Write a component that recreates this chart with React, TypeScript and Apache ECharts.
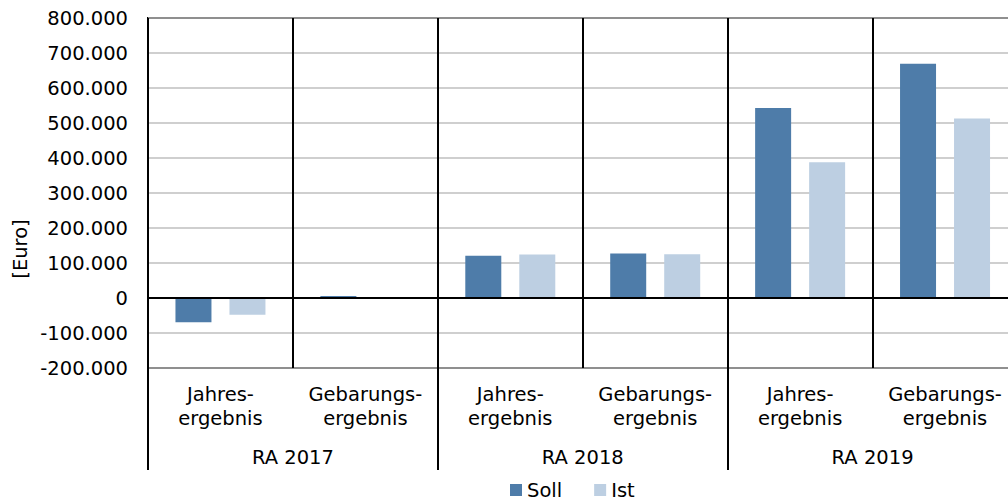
import React, { useEffect, useRef } from "react";
import * as echarts from "echarts";

const categories = [
  "Jahres-\nergebnis",
  "Gebarungs-\nergebnis",
  "Jahres-\nergebnis",
  "Gebarungs-\nergebnis",
  "Jahres-\nergebnis",
  "Gebarungs-\nergebnis",
];
const groups = ["RA 2017", "RA 2018", "RA 2019"];
const sollValues = [-69000, 6000, 121000, 127000, 543000, 669000];
const istValues = [-48000, 0, 124000, 125000, 388000, 513000];
const seriesNames = ["Soll", "Ist"];
const yAxisName = "[Euro]";

const FONT = "DejaVu Sans";
const FS = 19.5;

function fmt(v: number): string {
  const neg = v < 0;
  const s = Math.abs(v).toString().replace(/\B(?=(\d{3})+(?!\d))/g, ".");
  return (neg ? "-" : "") + s;
}

export default function App() {
  const ref = useRef<HTMLDivElement>(null);
  useEffect(() => {
    if (!ref.current) return;
    const chart = echarts.init(ref.current, null, { renderer: "svg" });
    chart.setOption({
      animation: false,
      backgroundColor: "#ffffff",
      textStyle: { fontFamily: FONT, color: "#000" },
      grid: {
        left: 148,
        top: 18,
        width: 869.5,
        height: 350,
        show: true,
        borderColor: "#000",
        borderWidth: 2,
        containLabel: false,
      },
      legend: {
        data: seriesNames,
        left: 505,
        top: 475,
        itemWidth: 12,
        itemHeight: 12,
        itemGap: 32,
        icon: "rect",
        textStyle: { fontFamily: FONT, fontSize: FS, color: "#000" },
      },
      xAxis: [
        {
          type: "category",
          data: categories,
          position: "bottom",
          axisLine: { show: true, lineStyle: { color: "#000", width: 2 } },
          axisTick: { show: true, length: 64, lineStyle: { color: "#000", width: 2 } },
          splitLine: { show: true, lineStyle: { color: "#000", width: 2 } },
          axisLabel: {
            interval: 0,
            margin: 15,
            fontFamily: FONT,
            fontSize: FS,
            lineHeight: 23.5,
            color: "#000",
          },
        },
        {
          type: "category",
          data: groups,
          position: "bottom",
          axisLine: { show: false },
          axisTick: { show: true, length: 102, lineStyle: { color: "#000", width: 2 } },
          splitLine: { show: false },
          axisLabel: {
            interval: 0,
            margin: 78,
            fontFamily: FONT,
            fontSize: FS,
            lineHeight: 23.5,
            color: "#000",
          },
        },
      ],
      yAxis: {
        type: "value",
        min: -200000,
        max: 800000,
        interval: 100000,
        axisLine: { show: false },
        axisTick: { show: false },
        splitLine: { show: true, lineStyle: { color: "#bfbfbf", width: 1.5 } },
        axisLabel: {
          margin: 20,
          fontFamily: FONT,
          fontSize: FS,
          color: "#000",
          formatter: (v: number) => fmt(v),
        },
      },
      graphic: [
        {
          type: "text",
          x: 20,
          y: 249,
          rotation: Math.PI / 2,
          style: {
            text: yAxisName,
            fontFamily: FONT,
            fontSize: FS,
            fill: "#000",
            textAlign: "center",
            textVerticalAlign: "middle",
          },
        },
      ],
      series: [
        {
          name: seriesNames[0],
          type: "bar",
          data: sollValues,
          barWidth: 36,
          barGap: "50%",
          itemStyle: { color: "#4e7ca9" },
          markLine: {
            silent: true,
            symbol: "none",
            label: { show: false },
            lineStyle: { color: "#000", width: 2, type: "solid" },
            data: [{ yAxis: 0 }],
          },
        },
        {
          name: seriesNames[1],
          type: "bar",
          data: istValues,
          barWidth: 36,
          barGap: "50%",
          itemStyle: { color: "#bdcfe2" },
        },
      ],
    });
    return () => chart.dispose();
  }, []);
  return (
    <div
      ref={ref}
      style={{ position: "fixed", left: 0, top: 0, width: 1030, height: 502 }}
    />
  );
}
